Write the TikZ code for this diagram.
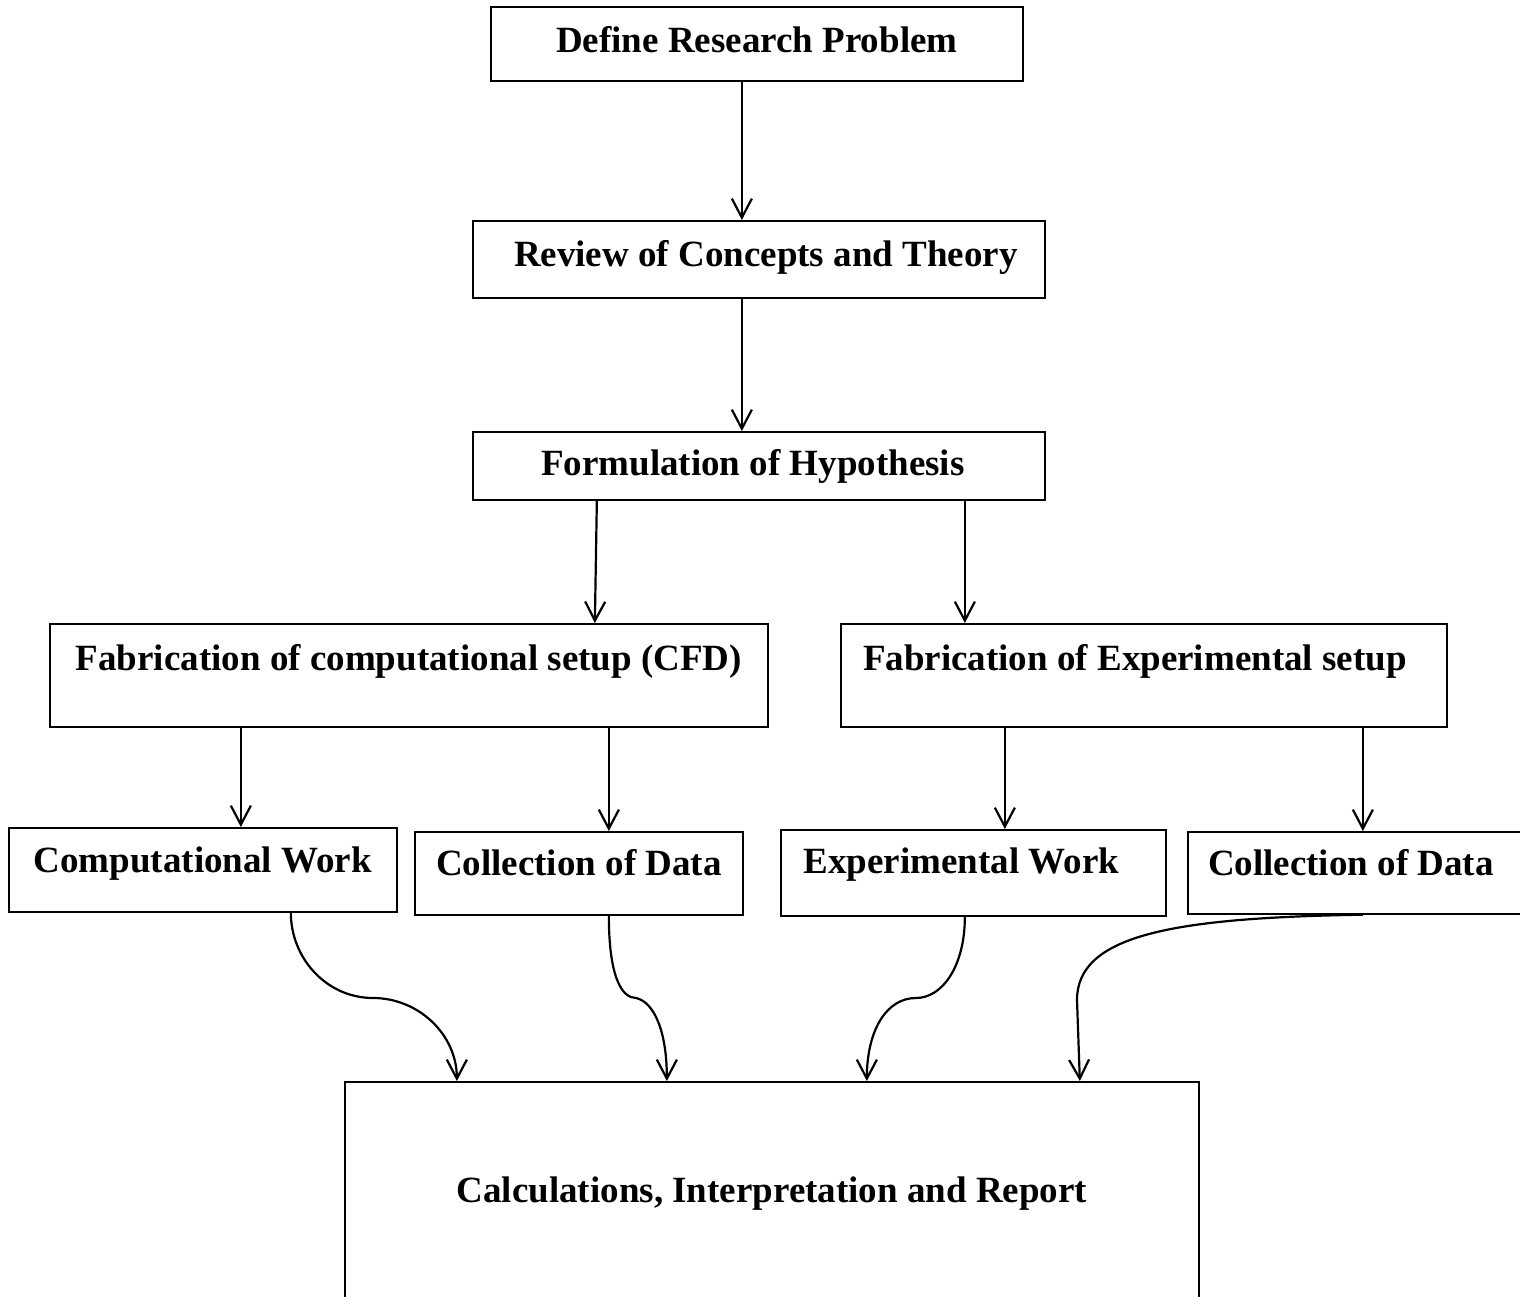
\documentclass[tikz,border=0pt]{standalone}
\usepackage{fontspec}
\setmainfont{Liberation Serif}
\usetikzlibrary{arrows.meta}
\tikzset{
  box/.style={draw=black, line width=1.7pt, inner sep=0pt, anchor=north west,
              font=\bfseries\fontsize{37}{44}\selectfont, align=center},
  arr/.style={draw=black, line width=2.2pt, -{Straight Barb[length=19pt,width=20pt,line width=2.2pt]}},
}
\begin{document}
\begin{tikzpicture}[x=1pt,y=-1pt]
\useasboundingbox (0,0) rectangle (1520,1297);
\clip (0,0) rectangle (1520,1297);

\node[box, minimum width=532pt, text height=46pt, text depth=28pt] (b1) at (490,6) {Define Research Problem};
\node[box, minimum width=572pt, text height=46pt, text depth=31pt] (b2) at (472,220) {\hspace*{14pt}Review of Concepts and Theory};
\node[box, minimum width=572pt, text height=44pt, text depth=24pt] (b3) at (472,431) {Formulation of Hypothesis\hspace*{12pt}};
\node[box, minimum width=718pt, text height=47pt, text depth=56pt] (b4) at (49,623) {Fabrication of computational setup (CFD)};
\node[box, minimum width=606pt, text height=47pt, text depth=56pt] (b5) at (840,623) {Fabrication of Experimental setup\hspace*{18pt}};
\node[box, minimum width=388pt, text height=45pt, text depth=39pt] (b6) at (8,827) {Computational Work};
\node[box, minimum width=328pt, text height=44pt, text depth=39pt] (b7) at (414,831) {Collection of Data};
\node[box, minimum width=385pt, text height=44pt, text depth=42pt] (b8) at (780,829) {Experimental Work\hspace*{24pt}};
\node[box, minimum width=340pt, text height=44pt, text depth=38pt] (b9) at (1187,831) {Collection of Data\hspace*{14pt}};
\node[box, minimum width=854pt, text height=121pt, text depth=118pt] (b10) at (344,1081) {Calculations, Interpretation and Report};

% straight arrows
\draw[arr] ([xshift=-15pt]b1.south) -- ([xshift=-17pt]b2.north);
\draw[arr] ([xshift=-17pt]b2.south) -- ([xshift=-17pt]b3.north);
\draw[arr] ([xshift=-162pt]b3.south) -- ([xshift=186pt]b4.north);
\draw[arr] ([xshift=206pt]b3.south) -- ([xshift=-179pt]b5.north);
\draw[arr] ([xshift=-168pt]b4.south) -- ([xshift=38pt]b6.north);
\draw[arr] ([xshift=200pt]b4.south) -- ([xshift=30pt]b7.north);
\draw[arr] ([xshift=-139pt]b5.south) -- ([xshift=31.5pt]b8.north);
\draw[arr] ([xshift=219pt]b5.south) -- ([xshift=5pt]b9.north);

% curved connectors
\coordinate (m1) at (373,998);
\coordinate (m2) at (636,998);
\coordinate (m3) at (916,998);
\coordinate (m4) at (1077,1000);
\draw[arr] ([xshift=88pt]b6.south) .. controls +(0,46) and +(-46,0) .. (m1)
  .. controls +(46,0) and +(0,-46) .. ([xshift=-315pt]b10.north);
\draw[arr] ([xshift=30pt]b7.south) .. controls +(0,62) and +(-14,0) .. (m2)
  .. controls +(18,4) and +(0,-50) .. ([xshift=-105pt]b10.north);
\draw[arr] ([xshift=-8.5pt]b8.south) .. controls +(0,50) and +(26,0) .. (m3)
  .. controls +(-30,0) and +(0,-50) .. ([xshift=95pt]b10.north);
\draw[arr] ([xshift=5pt]b9.south) .. controls +(-190,3) and +(0,-65) .. (m4)
  -- ([xshift=308pt]b10.north);
\end{tikzpicture}
\end{document}
